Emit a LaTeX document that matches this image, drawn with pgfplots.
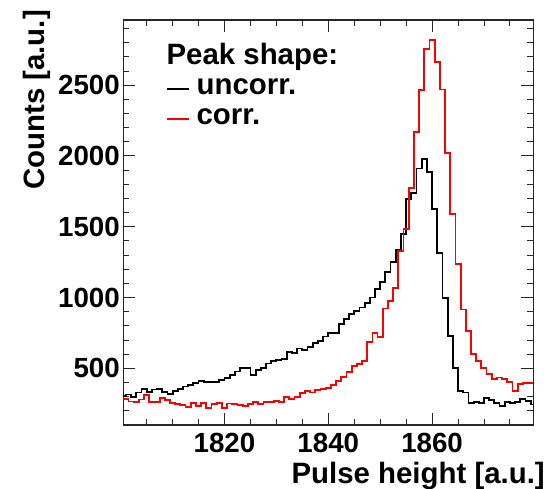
\documentclass[border=0pt]{standalone}
\usepackage{fontspec}
\setmainfont{Liberation Sans}
\usepackage{pgfplots}
\pgfplotsset{compat=1.18}
\begin{document}
\begin{tikzpicture}
\useasboundingbox (-123.3bp,-64bp) rectangle (425.7bp,425bp);
\begin{axis}[
  at={(0,0)}, anchor=south west,
  scale only axis, width=410bp, height=405bp,
  xmin=1800.5, xmax=1879.5, ymin=100, ymax=2960,
  xtick={1820,1840,1860},
  minor xtick={1805,1810,1815,1825,1830,1835,1845,1850,1855,1865,1870,1875},
  ytick={500,1000,1500,2000,2500},
  minor ytick={200,300,400,600,700,800,900,1100,1200,1300,1400,1600,1700,1800,1900,2100,2200,2300,2400,2600,2700,2800,2900},
  tick align=inside, xtick pos=both, ytick pos=both,
  major tick length=12bp, minor tick length=6bp,
  every tick/.style={black!85, line width=0.9bp},
  axis line style={line width=1.1bp, black!85},
  /pgf/number format/assume math mode=true,
  /pgf/number format/1000 sep={},
  tick label style={font=\bfseries\fontsize{27.7bp}{30bp}\selectfont},
  xticklabel style={anchor=north, inner sep=0pt, yshift=-8.3bp},
  yticklabel style={anchor=east, inner sep=0pt, xshift=-3.3bp},
  label style={font=\bfseries\fontsize{29.4bp}{32bp}\selectfont},
  xlabel={Pulse height [a.u.]},
  ylabel={Counts [a.u.]},
  xlabel style={at={(axis description cs:1.0285,-0.144)}, anchor=base east, inner sep=0pt},
  ylabel style={at={(axis description cs:-0.191,1.0247)}, anchor=base east, inner sep=0pt},
  legend cell align=left,
  legend style={draw=none, fill=none, at={(axis description cs:0.1059,0.9368)}, anchor=north west,
    inner sep=0pt, outer sep=0pt, row sep=3.6bp,
    font=\bfseries\fontsize{29.4bp}{32bp}\selectfont,
    nodes={inner sep=0pt, text height=19.4bp, text depth=7bp},
    /tikz/every odd column/.append style={column sep=6.7bp}},
  legend image code/.code={\draw[#1, line width=1.5bp] (0bp,0bp) -- (21.7bp,0bp);},
]
\addlegendimage{empty legend}
\addlegendentry{\hspace{-30bp}Peak shape:}
\addplot[black, line width=1.8bp, const plot, mark=none] coordinates {
(1800,305) (1801,315) (1802,300) (1803,330) (1804,355) (1805,335) (1806,350) (1807,352) (1808,335) (1809,320)
(1810,338) (1811,352) (1812,372) (1813,382) (1814,394) (1815,410) (1816,406) (1817,406) (1818,406) (1819,417)
(1820,430) (1821,453) (1822,478) (1823,504) (1824,500) (1825,453) (1826,488) (1827,500) (1828,535) (1829,552)
(1830,559) (1831,564) (1832,615) (1833,608) (1834,640) (1835,630) (1836,653) (1837,677) (1838,694) (1839,725)
(1840,752) (1841,752) (1842,815) (1843,850) (1844,885) (1845,905) (1846,930) (1847,960) (1848,1000) (1849,1060)
(1850,1110) (1851,1180) (1852,1250) (1853,1335) (1854,1450) (1855,1694) (1856,1740) (1857,1912) (1858,1976) (1859,1888)
(1860,1625) (1861,1312) (1862,999) (1863,730) (1864,500) (1865,340) (1866,330) (1867,258) (1868,265) (1869,253)
(1870,290) (1871,276) (1872,253) (1873,232) (1874,265) (1875,253) (1876,265) (1877,283) (1878,269) (1879,245)
(1880,245)
};
\addlegendentry{uncorr.}
\addplot[red, line width=1.8bp, const plot, mark=none] coordinates {
(1800.5,281) (1801.5,266) (1802.5,264) (1803.5,280) (1804.5,314) (1805.5,260) (1806.5,262) (1807.5,290) (1808.5,276)
(1809.5,256) (1810.5,248) (1811.5,241) (1812.5,229) (1813.5,253) (1814.5,232) (1815.5,255) (1816.5,218) (1817.5,250) (1818.5,255)
(1819.5,218) (1820.5,252) (1821.5,250) (1822.5,240) (1823.5,236) (1824.5,250) (1825.5,265) (1826.5,248) (1827.5,264) (1828.5,264)
(1829.5,270) (1830.5,264) (1831.5,300) (1832.5,282) (1833.5,300) (1834.5,325) (1835.5,338) (1836.5,330) (1837.5,345) (1838.5,352)
(1839.5,364) (1840.5,380) (1841.5,412) (1842.5,440) (1843.5,475) (1844.5,518) (1845.5,528) (1846.5,554) (1847.5,684) (1848.5,752)
(1849.5,722) (1850.5,922) (1851.5,977) (1852.5,1066) (1853.5,1330) (1854.5,1482) (1855.5,1775) (1856.5,2171) (1857.5,2468) (1858.5,2753)
(1859.5,2820) (1860.5,2664) (1861.5,2469) (1862.5,2018) (1863.5,1592) (1864.5,1237) (1865.5,915) (1866.5,766) (1867.5,601) (1868.5,554)
(1869.5,500) (1870.5,460) (1871.5,424) (1872.5,436) (1873.5,424) (1874.5,405) (1875.5,342) (1876.5,390) (1877.5,394) (1878.5,394)
(1879.5,394)
};
\addlegendentry{corr.}
\end{axis}
\end{tikzpicture}
\end{document}
